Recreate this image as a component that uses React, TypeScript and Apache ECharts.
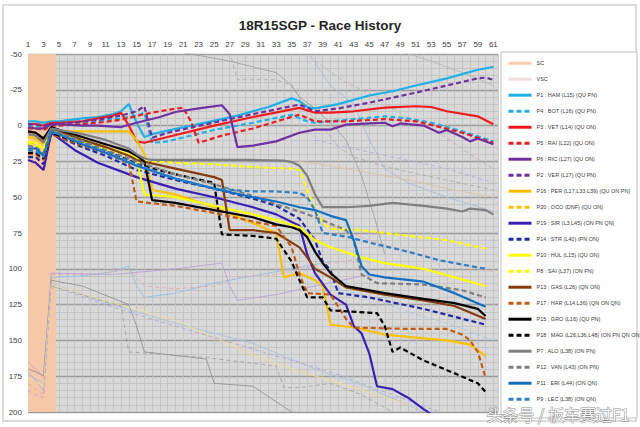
import React, { useEffect, useRef } from 'react';
import * as echarts from 'echarts';

const TITLE = '18R15SGP - Race History';
const WATERMARK = '头条号 / 板车赛过F1';
const X_MIN = 1;
const X_MAX = 61.6;
const Y_MIN = -50;
const Y_MAX = 200;
const Y_STEP = 25;
const scLaps = [1, 4.6];

// main drivers: [lap, gap]
const ham = [[1,-3],[2,-3],[3,-2],[4,-3],[5,-3],[8,-5],[10,-6],[12,-8],[13,-10],[14,-15],[15,-2],[16,8],[17,6],[19,3.5],[23,-1],[28,-7],[32,-13],[35,-19],[36,-17],[37,-13],[38,-12],[41,-15],[45,-21],[48,-24],[51,-28],[55,-33],[59,-39],[61,-41]];
const bot = [[1,0],[2,0],[3,1],[4,-1],[5,-1],[8,-2],[10,-3],[13,-5],[15,-7],[16,-9],[17,12],[19,11],[25,3],[30,-2],[35,-7.5],[37,-3],[38,-2],[42,-4],[47,-6.5],[50,-5],[53,-2],[57,4],[61,11]];
const vet = [[1,-1],[2,-1],[3,0],[4,-2],[5,-2],[8,-3],[10,-5],[12,-7],[13,-9],[14,0],[15,11],[16,12],[19,8],[25,0],[30,-6],[36,-12.4],[38,-9],[40,-9],[43,-10],[47,-12.5],[51,-13.5],[53,-13],[55,-10],[59,-6.5],[61,-1]];
const rai = [[1,2],[2,2],[3,3],[4,0],[5,0],[8,-1],[10,-2],[13,-4],[16,-8],[19,-11],[21,-12.5],[22,-3],[23,12],[26,7],[30,2],[36,-7.7],[38,-3],[42,-3],[47,-4.5],[51,-3],[53,-0.5],[57,5],[61,12]];
const ric = [[1,1],[2,2],[3,2],[4,-1],[5,-1],[8,0],[10,0],[13,1],[15,-2],[18,-6],[20,-9.5],[23,-12],[26,-14.2],[27,-8],[28,15],[30,14],[33,11],[36,5],[38,2.8],[40,2.8],[42,-0.7],[45,-1.5],[47,-2],[48,0.5],[49,-1.5],[52,0],[54,5],[55,3],[57,8],[58,11],[59,9],[61,13]];
const ver = [[1,-1],[2,-1],[3,0],[4,-1],[5,-1],[8,-3],[10,-4],[13,-7],[15,-10],[16,-13.5],[17,8.6],[19,5],[24,-1],[30,-8],[36,-14.7],[38,-10],[41,-12],[45,-16],[51,-23],[55,-28],[59,-33],[60,-33.5],[61,-32]];
const per = [[1,8],[2,9],[3,13],[4,3],[5,4],[8,4],[11,4],[14,4],[15,10],[16,20],[17,45],[20,48],[25,57],[30,68],[33,75],[34,106],[36,103],[38,108],[39,112],[40,139],[43,141],[47,146],[51,148],[55,150],[58,153],[60,161]];
const oco = [[1,12],[2,14]];
const sir = [[1,24],[2,26],[3,31],[4,5],[5,9],[7,17],[10,26],[15,36],[20,44],[25,50],[30,57],[33,62],[36,70],[37,90],[38,103],[40,118],[42,125],[43,140],[44,145],[45,159],[46,182],[48,184],[50,190],[52,198],[54,205]];
const str = [[1,22],[2,22],[3,27],[4,5],[5,8],[8,15],[11,21],[15,31],[20,38],[25,44],[30,51],[33,56],[36,65],[38,80],[39,95],[40,101],[41,117],[45,120],[52,128],[60,139]];
const hul = [[1,11],[2,12],[3,16],[4,3],[5,5],[8,10],[11,15],[14,20],[15,23],[16,48],[20,50],[25,56],[30,62],[33,66],[36,71],[38,80],[40,85],[44,92],[47,96],[52,100],[56,106],[60,112]];
const sai = [[1,13],[2,14],[3,18],[4,4],[5,6],[8,11],[11,16],[14,21],[15,23],[17,25],[20,26],[25,27],[30,29],[35,30],[36,31],[37,45],[38,58],[39,68],[40,72],[44,73],[50,77],[55,80],[60,86]];
const gas = [[1,4],[2,5],[3,10],[4,2],[5,4],[8,10],[11,15],[14,21],[15,24],[20,30],[25,36],[26,38],[27,73],[30,73],[33,75],[36,85],[37,92],[38,100],[40,106],[42,113],[47,118],[52,122],[56,126],[60,135]];
const har = [[1,20],[2,20],[3,24],[4,6],[5,8],[8,14],[11,19],[13,24],[14,26],[15,53],[20,56],[25,61],[30,67],[33,70],[35,85],[36,104],[37,117],[40,118],[42,135],[43,141],[50,142],[55,142],[57,146],[58,150],[59,158],[60,176]];
const gro = [[1,4],[2,5],[3,9],[4,1],[5,3],[8,8],[11,13],[14,18],[15,21],[16,25],[17,52],[20,54],[25,59],[30,64],[33,69],[35,71],[36,73],[37,78],[38,88],[39,96],[40,103],[42,112],[47,117],[52,121],[56,124],[59,128],[60,133]];
const mag = [[1,19],[2,19],[3,23],[4,5],[5,7],[8,13],[11,18],[14,24],[15,27],[20,34],[25,40],[26,76],[30,77],[33,79],[35,95],[36,108],[37,120],[39,120],[40,129],[46,131],[47,140],[48,158],[49,155],[52,164],[56,173],[59,180],[60,186]];
const alo = [[1,6],[2,7],[3,12],[4,2],[5,3],[8,6],[11,10],[14,16],[15,20],[16,23],[17,24],[25,24],[30,24],[34,24.5],[35,25.5],[36,28],[37,35],[38,48],[39,57],[42,57],[45,56],[48,54],[52,56],[55,58],[57,60],[58,58],[60,59],[61,62]];
const van = [[1,14],[2,15],[3,19],[4,3],[5,5],[8,11],[11,17],[15,25],[20,34],[25,41],[30,49],[33,55],[36,60],[38,64],[42,73],[43,80],[44,104],[46,110],[52,111],[57,115],[60,120]];
const eri = [[1,16],[2,16],[3,21],[4,4],[5,6],[8,13],[11,19],[15,28],[20,37],[25,44],[30,50],[33,53],[36,57],[38,59],[40,63],[42,66],[43,80],[44,98],[45,104],[47,106],[52,109],[56,117],[60,126.5]];
const lec = [[1,17],[2,18],[3,22],[4,4],[5,6],[8,12],[11,18],[15,27],[20,37],[25,44],[30,46],[33,46],[36,47],[37,50],[38,59],[39,75],[42,77.5],[46,83],[50,88],[54,94],[60,100]];

// faint comparison lines
const ghostA = [[20,-52],[27,-45],[33,-37],[35,-28],[36,-20],[38,-12],[40,-2],[42,10],[44,35],[46,70],[47,90]];
const ghostB = [[27,-52],[28,-32],[33,-32],[35,-28],[37,-10],[39,0],[41,15],[43,22],[48,30],[55,38],[61,45]];
const ghostC = [[37,-52],[40,-28],[43,-15],[45,10],[47,30],[50,40],[55,50],[61,60]];
const ghostD = [[49,-52],[53,-45],[58,-35],[61,-28]];
const ghostE = [[38,-45],[42,-30],[46,-20],[50,-5],[54,5],[58,20],[61,30]];
const ghostF = [[36,25],[40,28],[45,33],[50,38],[55,44],[61,50]];
const ghostG = [[38,10],[42,15],[48,22],[55,30],[61,40]];
const ghostH = [[1,172],[2,178],[3,185],[4,106],[8,105],[12,102],[14,98],[15,112],[16,120],[20,117],[25,110],[30,105],[35,100],[40,95]];
const ghostI = [[1,180],[2,184],[3,188],[4,104],[10,104],[14,100],[16,112],[20,114],[25,112],[28,106],[33,104],[38,98],[45,92]];
const ghostJ = [[1,165],[2,170],[3,175],[4,103],[12,104],[20,100],[26,96],[27,112],[28,122],[33,118],[38,112],[45,104]];
const ghostK = [[1,170],[2,172],[3,175],[4,108],[8,112],[14,125],[15,140],[16,158],[24,163],[25,180],[30,182],[35,200]];
const ghostL = [[1,174],[2,177],[3,180],[4,110],[10,122],[20,138],[30,152],[38,170],[45,183],[52,200]];
const ghostM = [[1,176],[2,179],[3,182],[4,111],[10,121],[20,136],[25,148],[30,160],[35,170],[40,178],[46,188],[50,195]];
const ghostN = [[4,112],[13,126],[14,158],[24,162],[33,168],[34,183],[36,183],[40,180],[44,188],[48,200]];
const ghostO = [[1,185],[2,188],[3,190],[4,112],[12,127],[20,140],[30,156],[40,172],[48,188],[54,200]];
const ghostP = [[40,70],[45,80],[50,88],[55,95],[61,102]];
const ghostQ = [[40,112],[45,120],[50,130],[55,138],[61,150]];

const drivers = [
  { name: 'P1 : HAM (L15) (QU PN)', color: '#1eb0e8', dashed: false, data: ham },
  { name: 'P4 : BOT (L16) (QU PN)', color: '#1eb0e8', dashed: true, data: bot },
  { name: 'P3 : VET (L14) (QU ON)', color: '#ee1c1c', dashed: false, data: vet },
  { name: 'P5 : RAI (L22) (QU ON)', color: '#ee1c1c', dashed: true, data: rai },
  { name: 'P6 : RIC (L27) (QU ON)', color: '#7030a0', dashed: false, data: ric },
  { name: 'P2 : VER (L17) (QU PN)', color: '#7030a0', dashed: true, data: ver },
  { name: 'P16 : PER (L17,L33,L39) (QU ON PN)', color: '#ffc000', dashed: false, data: per },
  { name: 'P20 : OCO (DNF) (QU ON)', color: '#ffc000', dashed: true, data: oco },
  { name: 'P19 : SIR (L3,L45) (ON PN QN)', color: '#3a1fb5', dashed: false, data: sir },
  { name: 'P14 : STR (L40) (PN ON)', color: '#1f2aa8', dashed: true, data: str },
  { name: 'P10 : HUL (L15) (QU ON)', color: '#ffff00', dashed: false, data: hul },
  { name: 'P8 : SAI (L37) (ON PN)', color: '#ffff00', dashed: true, data: sai },
  { name: 'P13 : GAS (L26) (QN ON)', color: '#843c0c', dashed: false, data: gas },
  { name: 'P17 : HAR (L14,L36) (QN ON QN)', color: '#c55a11', dashed: true, data: har },
  { name: 'P15 : GRO (L16) (QU PN)', color: '#000000', dashed: false, data: gro },
  { name: 'P18 : MAG (L26,L36,L48) (ON PN QN ON)', color: '#000000', dashed: true, data: mag },
  { name: 'P7 : ALO (L38) (ON PN)', color: '#7f7f7f', dashed: false, data: alo },
  { name: 'P12 : VAN (L43) (ON PN)', color: '#7f7f7f', dashed: true, data: van },
  { name: 'P11 : ERI (L44) (ON QN)', color: '#0f6fc0', dashed: false, data: eri },
  { name: 'P9 : LEC (L38) (ON QN)', color: '#2e7fc8', dashed: true, data: lec },
];

const ghosts = [
  { data: ghostA, color: '#9e9e9e', dashed: false },
  { data: ghostB, color: '#a9a9a9', dashed: true },
  { data: ghostC, color: '#a9b8d8', dashed: false },
  { data: ghostD, color: '#b5b5b5', dashed: false },
  { data: ghostE, color: '#c7aaaa', dashed: true },
  { data: ghostF, color: '#d9c49c', dashed: false },
  { data: ghostG, color: '#b9a9d2', dashed: true },
  { data: ghostH, color: '#8fc0e6', dashed: false },
  { data: ghostI, color: '#e2a9a8', dashed: true },
  { data: ghostJ, color: '#b9a0d8', dashed: false },
  { data: ghostK, color: '#8f8f8f', dashed: false },
  { data: ghostL, color: '#a8bfe3', dashed: false },
  { data: ghostM, color: '#f0de8a', dashed: false },
  { data: ghostN, color: '#a0a0a0', dashed: true },
  { data: ghostO, color: '#b4a2d6', dashed: true },
  { data: ghostP, color: '#e2b4b4', dashed: false },
  { data: ghostQ, color: '#a6c4e0', dashed: true },
];

const FONT = "'Liberation Sans', Arial, sans-serif";

export default function App() {
  const ref = useRef<HTMLDivElement>(null);
  useEffect(() => {
    if (!ref.current) return;
    const chart = echarts.init(ref.current, null, { renderer: 'svg' });
    const series: any[] = [
      {
        name: 'SC', type: 'line', data: [], symbol: 'none', z: 1,
        itemStyle: { color: '#f8cbad' }, lineStyle: { color: '#f8cbad', width: 5 },
        markArea: {
          silent: true,
          itemStyle: { color: '#f6c8a8', opacity: 1 },
          data: [[{ xAxis: scLaps[0] }, { xAxis: scLaps[1] }]],
        },
      },
      {
        name: 'VSC', type: 'line', data: [], symbol: 'none', z: 1,
        itemStyle: { color: '#f2dcdb' }, lineStyle: { color: '#f2dcdb', width: 5 },
      },
    ];
    ghosts.forEach((g, i) => {
      series.push({
        name: 'ghost' + i, type: 'line', data: g.data, symbol: 'none', silent: true, z: 2,
        lineStyle: { color: g.color, width: 1, opacity: 0.85, type: g.dashed ? [4, 3] : 'solid' },
      });
    });
    drivers.forEach((d) => {
      series.push({
        name: d.name, type: 'line', data: d.data, symbol: 'none', z: 3,
        itemStyle: { color: d.color },
        lineStyle: { color: d.color, width: 2.2, type: d.dashed ? [5, 3] : 'solid' },
      });
    });
    chart.setOption({
      animation: false,
      backgroundColor: '#ffffff',
      title: {
        text: TITLE, left: 'center', top: 13,
        textStyle: { fontFamily: FONT, fontSize: 13.5, fontWeight: 'bold', color: '#262626' },
      },
      graphic: [
        { type: 'rect', shape: { x: 3, y: 5, width: 633, height: 416 }, style: { fill: 'none', stroke: '#d0d0d0', lineWidth: 1.5 }, z: -10 },
        { type: 'rect', shape: { x: 501, y: 52, width: 136, height: 366 }, style: { fill: '#ffffff', stroke: '#bfbfbf', lineWidth: 1 }, z: -5 },
        {
          type: 'text', left: 486, top: 405, z: 100,
          style: { text: WATERMARK, fontSize: 16, fontFamily: "'Noto Sans CJK SC', sans-serif", fill: 'rgba(255,255,255,0.95)', stroke: 'rgba(90,90,90,0.7)', lineWidth: 1 },
        },
      ],
      legend: {
        orient: 'vertical', left: 501, top: 52,
        padding: [8, 4, 8, 6],
        itemWidth: 23, itemHeight: 8, itemGap: 9.6,
        selectedMode: false,
        itemStyle: { opacity: 0, borderWidth: 0 },
        lineStyle: { width: 3 },
        data: ['SC', 'VSC', ...drivers.map((d) => d.name)],
        textStyle: { fontFamily: FONT, fontSize: 5.5, color: '#3a3a3a' },
      },
      grid: {
        left: 28, right: 142, top: 54, bottom: 15,
        show: true, backgroundColor: '#d9d9d9', borderWidth: 0,
      },
      xAxis: {
        type: 'value', position: 'top', min: X_MIN, max: X_MAX, interval: 1,
        axisLine: { show: false }, axisTick: { show: false },
        axisLabel: {
          fontFamily: FONT, fontSize: 8, color: '#404040', margin: 6,
          showMaxLabel: false,
          formatter: (v: number) => (Number.isInteger(v) && v % 2 === 1 ? String(v) : ''),
        },
        splitLine: { show: true, lineStyle: { color: '#c0c0c0', width: 0.8 } },
      },
      yAxis: {
        type: 'value', inverse: true, min: Y_MIN, max: Y_MAX, interval: Y_STEP,
        axisLine: { show: false }, axisTick: { show: false },
        axisLabel: { fontFamily: FONT, fontSize: 8, color: '#404040', margin: 6 },
        splitLine: { show: true, lineStyle: { color: '#9c9c9c', width: 1.3 } },
        minorTick: { show: false, splitNumber: 5 },
        minorSplitLine: { show: true, lineStyle: { color: '#c0c0c0', width: 0.8 } },
      },
      series,
    });
    return () => chart.dispose();
  }, []);
  return <div ref={ref} style={{ position: 'absolute', left: 0, top: 0, width: 640, height: 427 }} />;
}
